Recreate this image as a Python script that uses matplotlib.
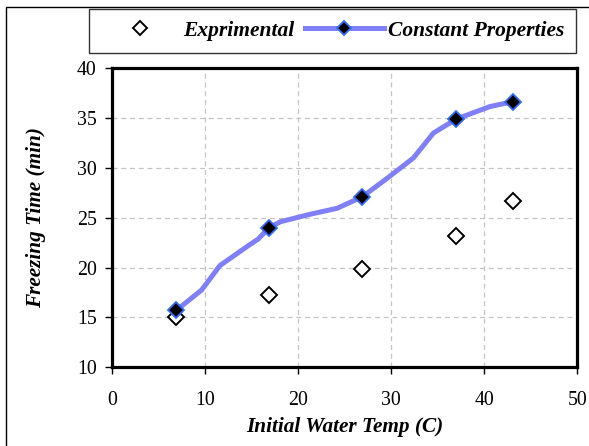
import matplotlib
matplotlib.use("Agg")
import matplotlib.pyplot as plt
from matplotlib.patches import Rectangle

plt.rcParams["font.family"] = ["Liberation Serif", "DejaVu Serif"]

# 实验值 (空心菱形)
temp_exp = [6.9, 16.9, 26.9, 37.0, 43.1]
time_exp = [15.0, 17.3, 19.9, 23.2, 26.7]

# 常物性计算曲线 (含中间点), 菱形只标在计算点上
temp_calc = [6.9, 9.65, 11.6, 14.5, 15.7, 16.9, 18.1, 21.3, 24.2, 26.9,
             29.35, 32.4, 34.55, 37.0, 40.6, 43.1]
time_calc = [15.7, 17.76, 20.2, 22.1, 22.85, 24.0, 24.6, 25.35, 25.95, 27.1,
             28.8, 31.0, 33.5, 34.9, 36.15, 36.65]
calc_marks = [0, 5, 9, 13, 15]

xticks = [0, 10, 20, 30, 40, 50]
yticks = [10, 15, 20, 25, 30, 35, 40]

fig = plt.figure(figsize=(5.89, 4.46), dpi=100)
ax = fig.add_axes([0.190, 0.1765, 0.790, 0.6705])

ax.plot(temp_exp, time_exp, linestyle="none", marker="D", markersize=7.8,
        markerfacecolor="white", markeredgecolor="black", markeredgewidth=1.4,
        label="Exprimental", zorder=3)
ax.plot(temp_calc, time_calc, color="#7f7ff7", linewidth=3.6, marker="D",
        markevery=calc_marks, markersize=7.8, markerfacecolor="black",
        markeredgecolor="#2f6bff", markeredgewidth=1.3,
        label="Constant Properties", zorder=4)

ax.set_xlim(0, 50)
ax.set_ylim(10, 40)
ax.set_xticks(xticks)
ax.set_yticks(yticks)
ax.tick_params(direction="out", length=5, width=1, labelsize=14.3,
               top=False, right=False)
ax.tick_params(axis="x", pad=12)
ax.tick_params(axis="y", pad=6)
ax.grid(True, color="#c4c4c4", linestyle=(0, (4, 3)), linewidth=0.9)
ax.set_axisbelow(True)
for s in ax.spines.values():
    s.set_linewidth(2.3)
    s.set_color("black")

ax.set_xlabel("Initial Water Temp (C)", fontsize=15.3, fontweight="bold",
              fontstyle="italic", labelpad=5)
ax.set_ylabel("Freezing Time (min)", fontsize=15.3, fontweight="bold",
              fontstyle="italic", labelpad=22)

leg = fig.legend(loc="center", bbox_to_anchor=(0.1494, 0.882, 0.830, 0.098),
                 ncol=2, frameon=True, fancybox=False, edgecolor="black",
                 handlelength=3.65, handletextpad=0.2, columnspacing=0.47,
                 markerscale=0.85, borderaxespad=0, borderpad=0.56,
                 prop={"size": 15.5, "weight": "bold", "style": "italic"})
leg.get_frame().set_linewidth(1.0)

# 外框
fig.patches.append(Rectangle((5.5 / 589, -0.1), 1.2, 1.1 - 6.5 / 446,
                             transform=fig.transFigure, fill=False,
                             edgecolor="black", linewidth=1.0))

fig.savefig("out.png", dpi=100)
